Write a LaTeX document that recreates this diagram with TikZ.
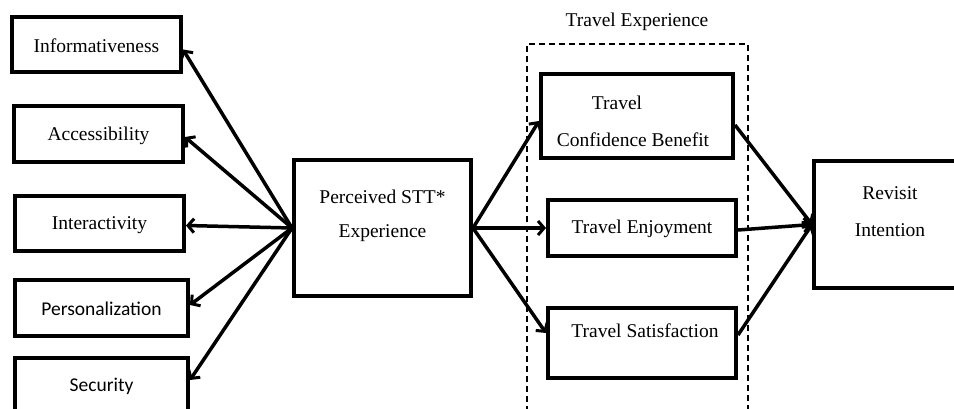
\documentclass[tikz,border=0pt]{standalone}
\usepackage{fontspec}
\setmainfont{Liberation Serif}
\newfontfamily\calib{Carlito}
\usetikzlibrary{arrows.meta}
\tikzset{
  box/.style={draw, line width=4pt, inner sep=0pt, rectangle},
  txt/.style={inner sep=0pt, font=\fontsize{19.5}{22}\selectfont},
  stxt/.style={inner sep=0pt, font=\calib\fontsize{19.5}{22}\selectfont},
  arr/.style={line width=3.5pt, -{Straight Barb[length=6pt,width=14pt,line width=3pt]}},
  grp/.style={draw, line width=1.8pt, dash pattern=on 6pt off 4pt}
}
\begin{document}
\begin{tikzpicture}[x=1pt,y=-1pt]
\useasboundingbox (0,0) rectangle (954,409);
\clip (0,0) rectangle (954,409);
% left boxes
\node[box, minimum width=169pt, minimum height=55pt] (inf) at (96.5,44.5) {};
\node[txt] (inft) at (96.5,46) {Informativeness};
\node[box, minimum width=169pt, minimum height=56pt] (acc) at (98.5,134) {};
\node[txt] (acct) at (98.5,136) {Accessibility};
\node[box, minimum width=169pt, minimum height=55pt] (int) at (99.5,223.5) {};
\node[txt] (intt) at (99.5,225) {Interactivity};
\node[box, minimum width=173pt, minimum height=56pt] (per) at (101.5,308) {};
\node[stxt] (pert) at (101.5,309) {Personalization};
\node[box, minimum width=173pt, minimum height=72pt] (sec) at (101.5,394) {};
\node[stxt] (sect) at (101.5,386) {Security};
% center
\node[box, minimum width=177pt, minimum height=136pt] (pst) at (382.5,228) {};
\node[txt] (pstt1) at (382.5,197) {Perceived STT*};
\node[txt] (pstt2) at (382.5,233) {Experience};
% group
\node[grp, minimum width=221pt, minimum height=376pt, inner sep=0pt] (grpbox) at (637.5,232) {};
\node[txt] (grpt) at (637,22) {Travel Experience};
\node[box, minimum width=192pt, minimum height=84pt] (tcb) at (637,116) {};
\node[txt] (tcbt1) at (617,103) {Travel};
\node[txt] (tcbt2) at (633,140) {Confidence Benefit};
\node[box, minimum width=188pt, minimum height=56pt] (enj) at (642,228) {};
\node[txt] (enjt) at (642,229) {Travel Enjoyment};
\node[box, minimum width=188pt, minimum height=70pt] (sat) at (642,343) {};
\node[txt] (satt) at (645,331) {Travel Satisfaction};
% right
\node[box, minimum width=156pt, minimum height=127pt] (rev) at (892,224.5) {};
\node[txt] (revt1) at (890,193) {Revisit};
\node[txt] (revt2) at (890,230) {Intention};
% connectors left
\draw[arr] (pst.west) -- ([yshift=-5pt]inf.east);
\draw[arr] (pst.west) -- ([yshift=-3pt]acc.east);
\draw[arr] (pst.west) -- ([yshift=-2pt]int.east);
\draw[arr] (pst.west) -- ([yshift=3pt]per.east);
\draw[arr] (pst.west) -- ([yshift=14pt]sec.east);
% connectors right
\draw[arr] (pst.east) -- ([yshift=-5pt]tcb.west);
\draw[arr] (pst.east) -- (enj.west);
\draw[arr] (pst.east) -- ([yshift=10pt]sat.west);
\draw[arr] ([yshift=-9pt]tcb.east) -- (rev.west);
\draw[arr] ([yshift=-2pt]enj.east) -- (rev.west);
\draw[arr] ([yshift=8pt]sat.east) -- (rev.west);
\end{tikzpicture}
\end{document}
